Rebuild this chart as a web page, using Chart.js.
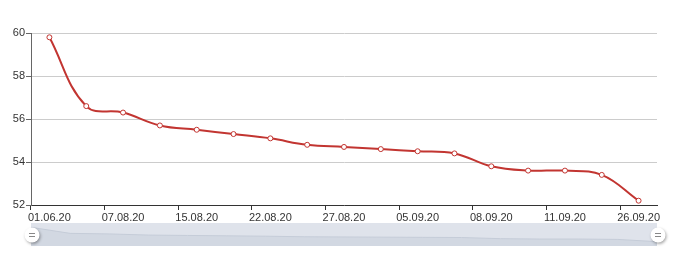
<!DOCTYPE html>
<html>
<head>
<meta charset="utf-8">
<script src="https://cdn.jsdelivr.net/npm/chart.js@4/dist/chart.umd.min.js"></script>
<style>
  body { margin: 0; background: #fff; }
  #wrap { position: relative; width: 680px; height: 260px; }
  #wrap canvas { position: absolute; left: 0; top: 0; }
</style>
</head>
<body>
<div id="wrap">
  <canvas id="mainChart" width="680" height="260"></canvas>
  <canvas id="sliderChart" width="680" height="260"></canvas>
</div>
<script>
// ===== Data =====
const dates = [
  "01.06.20", "03.08.20", "07.08.20", "11.08.20", "15.08.20", "18.08.20",
  "22.08.20", "25.08.20", "27.08.20", "01.09.20", "05.09.20", "07.09.20",
  "08.09.20", "10.09.20", "11.09.20", "15.09.20", "26.09.20"
];
const values = [
  59.8, 56.6, 56.3, 55.7, 55.5, 55.3, 55.1, 54.8, 54.7,
  54.6, 54.5, 54.4, 53.8, 53.6, 53.6, 53.4, 52.2
];
const yTicks = { min: 52, max: 60, step: 2 };

const RED = "#c23531";
const font = { family: "'Liberation Sans', Arial, sans-serif", size: 11 };

// ===== Main chart =====
new Chart(document.getElementById("mainChart"), {
  type: "line",
  data: {
    labels: dates,
    datasets: [{
      data: values,
      borderColor: RED,
      borderWidth: 2,
      tension: 0.4,
      pointRadius: 2.5,
      pointBorderWidth: 1,
      pointBackgroundColor: "#fff",
      pointBorderColor: RED
    }]
  },
  options: {
    responsive: false,
    animation: false,
    layout: { padding: { left: 0, right: 23, top: 33, bottom: 35 } },
    plugins: { legend: { display: false }, tooltip: { enabled: false } },
    scales: {
      x: {
        type: "category",
        offset: true,
        afterFit: (s) => { s.height = 20; },
        border: { color: "#333", width: 1 },
        grid: {
          offset: true,
          drawOnChartArea: false,
          tickLength: 5,
          tickColor: (ctx) => (ctx.index % 2 === 0 || ctx.index === dates.length) ? "#333" : "rgba(0,0,0,0)"
        },
        ticks: {
          autoSkip: false,
          maxRotation: 0,
          padding: 1,
          color: "#333",
          font,
          callback: (v, i) => (i % 2 === 0 ? dates[i] : "")
        }
      },
      y: {
        min: yTicks.min,
        max: yTicks.max,
        afterFit: (s) => { s.width = 31; },
        border: { color: "#666", width: 1 },
        grid: { color: "#ccc", tickColor: "#666", tickLength: 5 },
        ticks: { stepSize: yTicks.step, padding: 1, color: "#333", font }
      }
    }
  }
});

// ===== Slider (data zoom look-alike) =====
const shadowPad = (Math.max(...values) - Math.min(...values)) * 0.3;

const sliderDecor = {
  id: "sliderDecor",
  beforeDraw(chart) {
    const { ctx, chartArea: a } = chart;
    ctx.save();
    ctx.fillStyle = "#dfe3eb";
    ctx.fillRect(a.left, a.top, a.right - a.left, a.bottom - a.top);
    ctx.restore();
  },
  afterDraw(chart) {
    const { ctx, chartArea: a } = chart;
    const cy = (a.top + a.bottom) / 2 + 0.5;
    [a.left + 1, a.right + 1].forEach((cx) => {
      ctx.save();
      ctx.shadowColor = "rgba(0,0,0,0.35)";
      ctx.shadowBlur = 3;
      ctx.shadowOffsetX = 1;
      ctx.shadowOffsetY = 1.5;
      ctx.fillStyle = "#fff";
      ctx.beginPath();
      ctx.arc(cx, cy, 7.5, 0, Math.PI * 2);
      ctx.fill();
      ctx.restore();
      ctx.save();
      ctx.strokeStyle = "#888";
      ctx.lineWidth = 1.2;
      ctx.beginPath();
      ctx.moveTo(cx - 3, cy - 1.5); ctx.lineTo(cx + 3, cy - 1.5);
      ctx.moveTo(cx - 3, cy + 1.5); ctx.lineTo(cx + 3, cy + 1.5);
      ctx.stroke();
      ctx.restore();
    });
  }
};

new Chart(document.getElementById("sliderChart"), {
  type: "line",
  data: {
    labels: dates,
    datasets: [{
      data: values,
      borderColor: "#c5ccd8",
      borderWidth: 1,
      backgroundColor: "#d2d8e2",
      fill: "start",
      pointRadius: 0,
      tension: 0
    }]
  },
  options: {
    responsive: false,
    animation: false,
    layout: { padding: { left: 31, right: 23, top: 223, bottom: 14 } },
    plugins: { legend: { display: false }, tooltip: { enabled: false } },
    scales: {
      x: { display: false, offset: false },
      y: {
        display: false,
        min: Math.min(...values) - shadowPad,
        max: Math.max(...values) + shadowPad
      }
    }
  },
  plugins: [sliderDecor]
});
</script>
</body>
</html>
